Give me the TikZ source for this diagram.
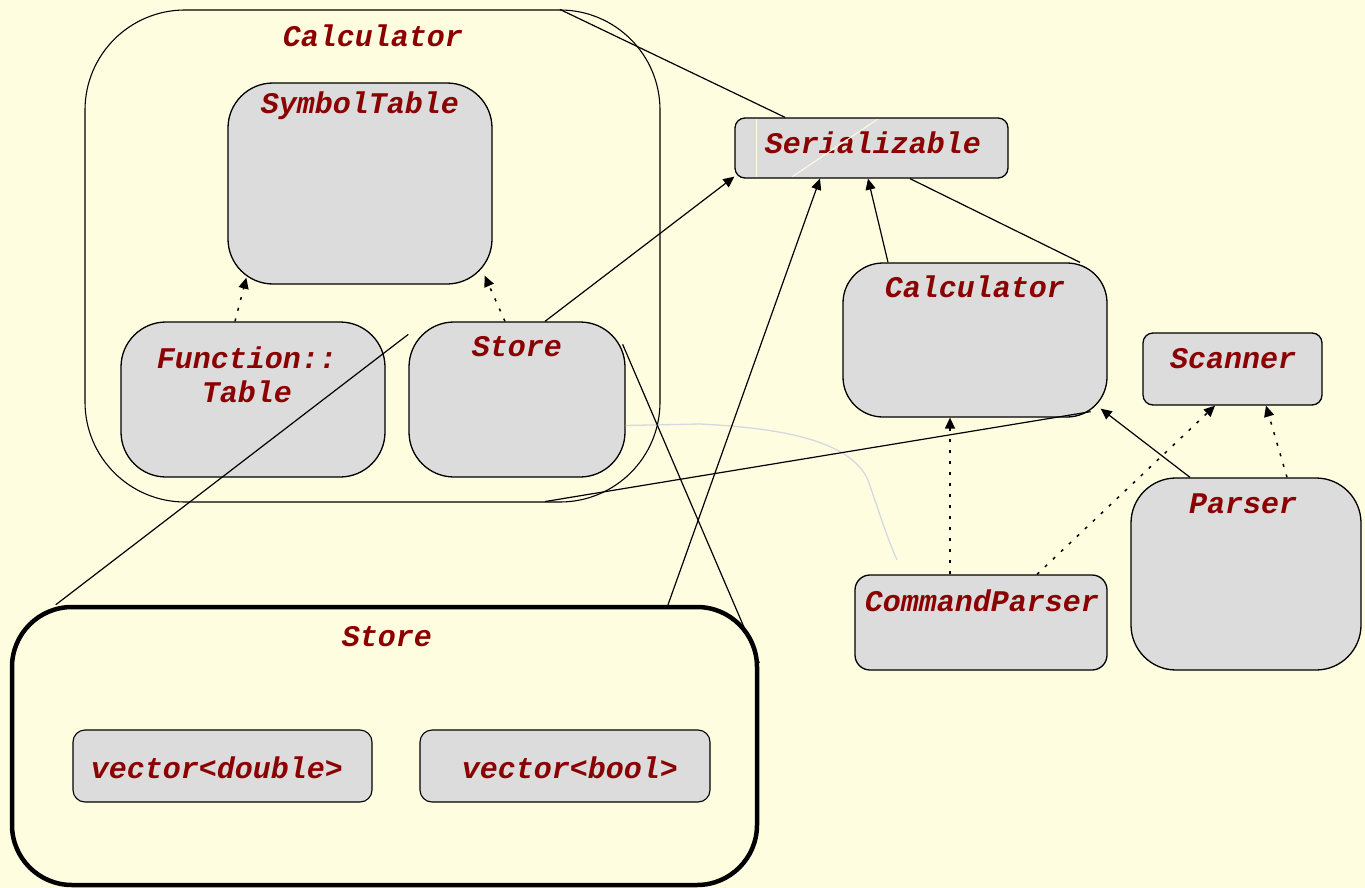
\documentclass[tikz,border=0pt]{standalone}
\usepackage{fontspec}
\setmonofont{Liberation Mono}
\usetikzlibrary{arrows.meta,calc}
\definecolor{bg}{HTML}{FFFDE0}
\definecolor{boxgray}{HTML}{DCDCDC}
\definecolor{txt}{HTML}{8B0000}
\definecolor{faint}{HTML}{D4D8E2}
\tikzset{
 box/.style={draw=black, line width=1.3pt, fill=boxgray, rectangle, inner sep=0pt},
 frame/.style={draw=black, line width=1.1pt, fill=bg, rectangle, inner sep=0pt},
 lbl/.style={text=txt, font=\fontsize{30}{34}\selectfont\ttfamily\bfseries\itshape, inner sep=0pt},
 link/.style={line width=1.2pt},
 gen/.style={line width=1.2pt, -{Triangle[length=11pt,width=10pt]}},
 dep/.style={line width=1.5pt, dash pattern=on 3pt off 8pt, -{Triangle[length=11pt,width=10pt]}},
 ghost/.style={line width=1.3pt, draw=faint},
 hide/.style={line width=1pt, draw=bg},
}
\begin{document}
\begin{tikzpicture}[x=1pt,y=-1pt]
\fill[bg] (0,0) rectangle (1365,888);
\useasboundingbox (0,0) rectangle (1365,888);

% containers and boxes
\node[frame, minimum width=575pt, minimum height=492pt, rounded corners=100pt] (calcC) at (372.5,256) {};
\node[box, minimum width=264pt, minimum height=201pt, rounded corners=45pt] (sym) at (360,183.5) {};
\node[box, minimum width=264pt, minimum height=155pt, rounded corners=45pt] (ft) at (253,399.5) {};
\node[box, minimum width=216pt, minimum height=155pt, rounded corners=45pt] (st) at (517,399.5) {};
\node[box, minimum width=273pt, minimum height=60pt, rounded corners=10pt] (ser) at (871.5,148) {};
\node[box, minimum width=264pt, minimum height=154pt, rounded corners=40pt] (calc) at (975,340) {};
\node[box, minimum width=179pt, minimum height=72pt, rounded corners=10pt] (scan) at (1232.5,369) {};
\node[box, minimum width=230pt, minimum height=192pt, rounded corners=45pt] (pars) at (1246,574) {};
\node[box, minimum width=252pt, minimum height=95pt, rounded corners=15pt] (cmd) at (981,622.5) {};
\node[frame, line width=4.5pt, minimum width=745pt, minimum height=278pt, rounded corners=60pt] (bigst) at (384.5,746) {};
\node[box, line width=1.1pt, minimum width=299pt, minimum height=72pt, rounded corners=12pt] (vd) at (222.5,766) {};
\node[box, line width=1.1pt, minimum width=290pt, minimum height=72pt, rounded corners=12pt] (vb) at (565,766) {};

% labels
\node[lbl] (calcCt) at (373,36) {Calculator};
\node[lbl] (symt) at (360,106) {SymbolTable};
\node[lbl, align=center] (ftt) at (247,375) {Function::\\Table};
\node[lbl] (stt) at (517,347) {Store};
\node[lbl] (sert) at (873,143) {Serializable};
\node[lbl] (calct) at (975,287) {Calculator};
\node[lbl] (scant) at (1233,359) {Scanner};
\node[lbl] (parst) at (1243,504) {Parser};
\node[lbl] (cmdt) at (982,601) {CommandParser};
\node[lbl] (bigstt) at (387,637) {Store};
\node[lbl] (vdt) at (217,768) {vector<double>};
\node[lbl] (vbt) at (570,768) {vector<bool>};

% faint marks inside Serializable
\draw[hide] ([xshift=22,yshift=-2]ser.north west) -- ([xshift=22,yshift=2]ser.south west);
\draw[hide] ([xshift=58,yshift=2]ser.south west) -- ([xshift=143,yshift=-2]ser.north west);

% faint curve from Store
\coordinate (gend) at (897,560);
\draw[ghost] ([yshift=-26]st.east) -- (700,424) .. controls (780,428) and (850,440) .. (868,480) .. controls (880,515) and (888,540) .. (gend);

% zoom / view lines
\draw[link] ([xshift=187.5]calcC.north) -- ([xshift=-86.5]ser.north);
\draw[link] ([xshift=38.5]ser.south) -- ([xshift=105]calc.north);
\draw[link] ([yshift=-13]st.north west) -- ([xshift=46]bigst.north west);
\draw[link] ([xshift=-3,yshift=-23]st.north east) -- ([yshift=-58]bigst.north east);
\draw[link] ([xshift=172.5,yshift=1]calcC.south) -- ([xshift=-17,yshift=6]calc.south east);

% generalisations
\draw[gen] ([xshift=28]st.north) -- ([yshift=2]ser.south west);
\draw[gen] ([xshift=283.5]bigst.north) -- ([xshift=-51.5]ser.south);
\draw[gen] ([xshift=-87]calc.north) -- ([xshift=-3.5]ser.south);
\draw[gen] ([xshift=-56]pars.north) -- ([xshift=-7,yshift=9]calc.south east);

% dependencies
\draw[dep] ([xshift=-31]cmd.north) -- ([xshift=-25]calc.south);
\draw[dep] ([xshift=56]cmd.north) -- ([xshift=-17.5]scan.south);
\draw[dep] ([xshift=41]pars.north) -- ([xshift=33.5]scan.south);
\draw[dep] ([xshift=-18]ft.north) -- ([xshift=19,yshift=7]sym.south west);
\draw[dep] ([xshift=-12]st.north) -- ([xshift=-8,yshift=9]sym.south east);
\end{tikzpicture}
\end{document}
